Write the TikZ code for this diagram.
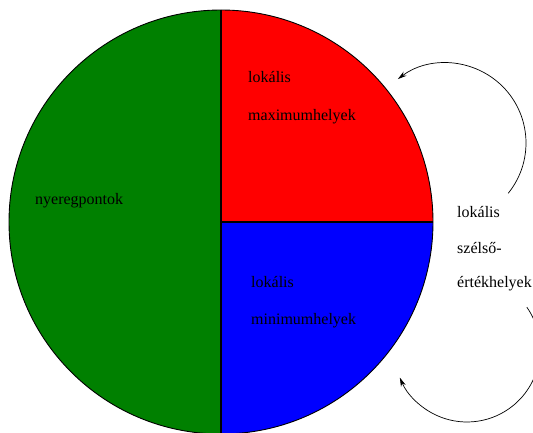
\documentclass[tikz,border=0pt]{standalone}
\usepackage{fontspec}
\setmainfont{Liberation Serif}
\usetikzlibrary{arrows.meta}
\definecolor{pgreen}{RGB}{0,128,0}
\begin{document}
\begin{tikzpicture}[x=1pt,y=1pt,
  lbl/.style={anchor=base west,inner sep=0pt,font=\fontsize{16}{19}\selectfont},
  loop/.style={line width=0.7pt,-{Stealth[length=9pt,width=5pt]}}]
\useasboundingbox (0,0) rectangle (533,432);
\coordinate (c) at (221,210);
\fill[pgreen] (c) -- (221,422) arc[start angle=90,end angle=270,radius=212] -- cycle;
\fill[red] (c) -- (433,210) arc[start angle=0,end angle=90,radius=212] -- cycle;
\fill[blue] (c) -- (221,-2) arc[start angle=270,end angle=360,radius=212] -- cycle;
\draw[line width=0.9pt] (c) circle[radius=212];
\draw[line width=1.2pt] (221,422) -- (221,-2);
\draw[line width=1.2pt] (c) -- (433,210);
\node[lbl] (maxa) at (248,349) {lokális};
\node[lbl] (maxb) at (248,312) {maximumhelyek};
\node[lbl] (nyer) at (35,228) {nyeregpontok};
\node[lbl] (mina) at (251,145) {lokális};
\node[lbl] (minb) at (251,108) {minimumhelyek};
\node[lbl] (sza) at (457,215) {lokális};
\node[lbl] (szb) at (457,179) {szélső-};
\node[lbl] (szc) at (457,145) {értékhelyek};
\draw[loop] (446,289) ++(-39:80) arc[start angle=-39,end angle=127,radius=80];
\draw[loop] (467,83) ++(35:73) arc[start angle=35,end angle=-157,radius=73];
\end{tikzpicture}
\end{document}
